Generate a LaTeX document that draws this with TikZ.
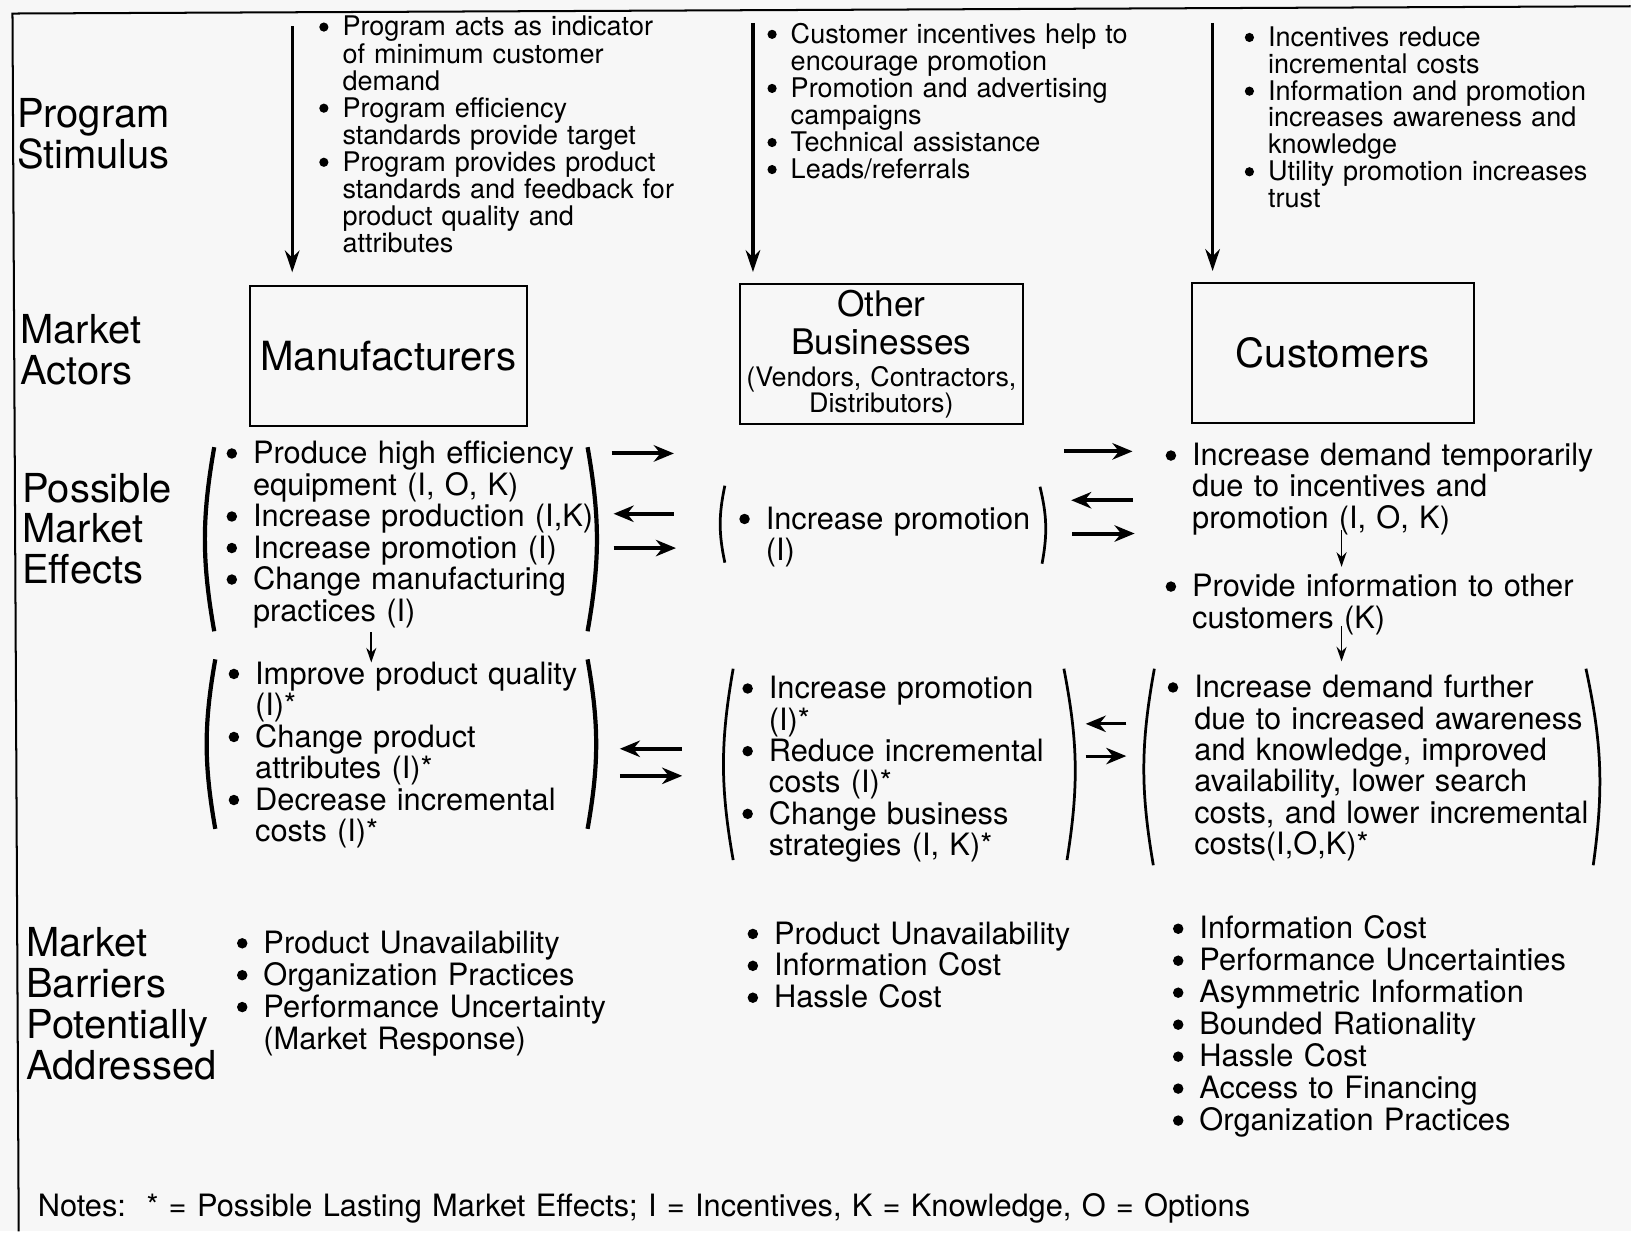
\documentclass[tikz,border=0pt]{standalone}
\usepackage{fontspec}
\setmainfont{TeX Gyre Heros}
\usetikzlibrary{arrows.meta}

\newcommand{\bu}{\leavevmode\llap{\tikz[baseline=-0.33em]\fill (0,0) circle [radius=0.17em];\hspace{0.52em}}}

\begin{document}
\begin{tikzpicture}[
    x=0.02cm, y=-0.02cm,
    rowlabel/.style={anchor=base west, inner sep=0pt, align=left, text width=5cm, font=\fontsize{21.85pt}{22.2pt}\selectfont},
    actor/.style={rectangle, draw=black, line width=1pt, minimum width=5.34cm, minimum height=2.7cm, align=center, font=\fontsize{22pt}{24pt}\selectfont},
    stim/.style={anchor=base west, inner sep=0pt, align=left, text width=7cm, font=\fontsize{14.8pt}{14.8pt}\selectfont},
    effect/.style={anchor=base west, inner sep=0pt, align=left, text width=8cm, font=\fontsize{16.85pt}{17.25pt}\selectfont},
    barrier/.style={effect, font=\fontsize{16.85pt}{17.45pt}\selectfont},
    frameline/.style={line width=1.1pt},
    paren/.style={line width=1.5pt},
    heavy paren/.style={line width=2.3pt},
    stimarrow/.style={line width=1.8pt, -{Stealth[length=12pt, width=8pt]}},
    arrow/.style={line width=2.2pt, -{Stealth[length=11pt, width=9pt]}},
    smallarrow/.style={line width=0.9pt, -{Stealth[length=8pt, width=5.5pt]}}
]

\fill[black!3] (0,0) rectangle (1568,1184);
\draw[frameline] (1568,6) -- (12,13) -- (18,1184);

% Row labels
\node[rowlabel] (stimLbl) at (16,122.7) {Program\\Stimulus};
\node[rowlabel] (actLbl) at (19,330.7) {Market\\Actors};
\node[rowlabel] (effLbl) at (21,482.7) {Possible\\Market\\Effects};
\node[rowlabel, font=\fontsize{21.85pt}{22.4pt}\selectfont] (barLbl) at (25,919.7) {Market\\Barriers\\Potentially\\Addressed};

% Market actors
\node[actor] (mfg) at (373.5,342.5) {Manufacturers};
\node[actor, text width=5.2cm, font=\fontsize{14.7pt}{14.2pt}\selectfont] (oth) at (847.5,340.5)
  {{\fontsize{19.3pt}{14.2pt}\selectfont Other\\[5.1pt]Businesses}\\[3.4pt](Vendors, Contractors,\\Distributors)};
\node[actor, minimum width=5.42cm] (cus) at (1281.5,339.5) {Customers};

% Program stimulus
\node[stim] (stimMfg) at (329,34.6) {\bu Program acts as indicator\\
of minimum customer\\
demand\\
\bu Program efficiency\\
standards provide target\\
\bu Program provides product\\
standards and feedback for\\
product quality and\\
attributes};
\node[stim] (stimOth) at (760,41.6) {\bu Customer incentives help to\\
encourage promotion\\
\bu Promotion and advertising\\
campaigns\\
\bu Technical assistance\\
\bu Leads/referrals};
\node[stim, font=\fontsize{14.8pt}{14.7pt}\selectfont] (stimCus) at (1219,44.6) {\bu Incentives reduce\\
incremental costs\\
\bu Information and promotion\\
increases awareness and\\
knowledge\\
\bu Utility promotion increases\\
trust};

\coordinate (stimTop1) at (281,25);
\coordinate (stimTop2) at (724,22);
\coordinate (stimTop3) at (1166,22);
\draw[stimarrow, shorten >=7pt] (stimTop1) -- (stimTop1 |- mfg.north);
\draw[stimarrow, shorten >=6pt] (stimTop2) -- (stimTop2 |- oth.north);
\draw[stimarrow, shorten >=6pt] (stimTop3) -- (stimTop3 |- cus.north);

% Possible market effects
\node[effect] (mfgA) at (243,445.8) {\bu Produce high efficiency\\
equipment (I, O, K)\\
\bu Increase production (I,K)\\
\bu Increase promotion (I)\\
\bu Change manufacturing\\
practices (I)};
\node[effect] (mfgB) at (245,657.8) {\bu Improve product quality\\
(I)*\\
\bu Change product\\
attributes (I)*\\
\bu Decrease incremental\\
costs (I)*};
\node[effect] (othA) at (736,508.8) {\bu Increase promotion\\
(I)};
\node[effect, font=\fontsize{16.85pt}{17.15pt}\selectfont] (othB) at (739,671.8) {\bu Increase promotion\\
(I)*\\
\bu Reduce incremental\\
costs (I)*\\
\bu Change business\\
strategies (I, K)*};
\node[effect, font=\fontsize{16.85pt}{17.07pt}\selectfont] (cusA) at (1146,447.8) {\bu Increase demand temporarily\\
due to incentives and\\
promotion (I, O, K)};
\node[effect] (cusInfo) at (1146,573.8) {\bu Provide information to other\\
customers (K)};
\node[effect, font=\fontsize{16.85pt}{17.2pt}\selectfont] (cusB) at (1148,670.8) {\bu Increase demand further\\
due to increased awareness\\
and knowledge, improved\\
availability, lower search\\
costs, and lower incremental\\
costs(I,O,K)*};

% Brackets
\draw[heavy paren] (206,430) to[bend right=10] (206,607);
\draw[heavy paren] (565,430) to[bend left=10] (565,607);
\draw[heavy paren] (207,634) to[bend right=10] (207,797);
\draw[heavy paren] (565,634) to[bend left=10] (565,797);
\draw[paren] (697,467) to[bend right=12] (697,541);
\draw[paren] (1000,468) to[bend left=12] (1002,542);
\draw[paren] (705,643) to[bend right=10] (705,827);
\draw[paren] (1023,643) to[bend left=10] (1026,827);
\draw[paren] (1110,643) to[bend right=10] (1109,832);
\draw[paren] (1525,643) to[bend left=10] (1532,832);

% Arrow ends
\coordinate (e1a) at (588,436);   \coordinate (e1b) at (648,436);
\coordinate (e2a) at (648,494);   \coordinate (e2b) at (590,494);
\coordinate (e3a) at (590,527);   \coordinate (e3b) at (650,527);
\coordinate (e4a) at (656,720);   \coordinate (e4b) at (596,720);
\coordinate (e5a) at (596,746);   \coordinate (e5b) at (656,746);
\coordinate (e6a) at (1023,434);  \coordinate (e6b) at (1089,434);
\coordinate (e7a) at (1089,481);  \coordinate (e7b) at (1030,481);
\coordinate (e8a) at (1031,513);  \coordinate (e8b) at (1091,513);
\coordinate (e9a) at (1083,696);  \coordinate (e9b) at (1044,696);
\coordinate (e10a) at (1044,727); \coordinate (e10b) at (1083,727);
\coordinate (d1a) at (357,608);   \coordinate (d1b) at (357,637);
\coordinate (d2a) at (1290,510);  \coordinate (d2b) at (1290,545);
\coordinate (d3a) at (1290,602);  \coordinate (d3b) at (1290,636);

% Flow
\draw[arrow] (e1a) -- (e1b);
\draw[arrow] (e2a) -- (e2b);
\draw[arrow] (e3a) -- (e3b);
\draw[arrow] (e4a) -- (e4b);
\draw[arrow] (e5a) -- (e5b);
\draw[arrow] (e6a) -- (e6b);
\draw[arrow] (e7a) -- (e7b);
\draw[arrow] (e8a) -- (e8b);
\draw[arrow, line width=1.6pt] (e9a) -- (e9b);
\draw[arrow, line width=1.6pt] (e10a) -- (e10b);
\draw[smallarrow] (d1a) -- (d1b);
\draw[smallarrow] (d2a) -- (d2b);
\draw[smallarrow] (d3a) -- (d3b);

% Market barriers
\node[barrier] (barMfg) at (253,916.8) {\bu Product Unavailability\\
\bu Organization Practices\\
\bu Performance Uncertainty\\
(Market Response)};
\node[barrier] (barOth) at (744,907.8) {\bu Product Unavailability\\
\bu Information Cost\\
\bu Hassle Cost};
\node[barrier, font=\fontsize{16.85pt}{17.5pt}\selectfont] (barCus) at (1153,902.8) {\bu Information Cost\\
\bu Performance Uncertainties\\
\bu Asymmetric Information\\
\bu Bounded Rationality\\
\bu Hassle Cost\\
\bu Access to Financing\\
\bu Organization Practices};

% Notes
\node[effect, text width=25cm] (notes) at (36,1169.8) {Notes:\ \ * = Possible Lasting Market Effects; I = Incentives, K = Knowledge, O = Options};

\end{tikzpicture}
\end{document}
